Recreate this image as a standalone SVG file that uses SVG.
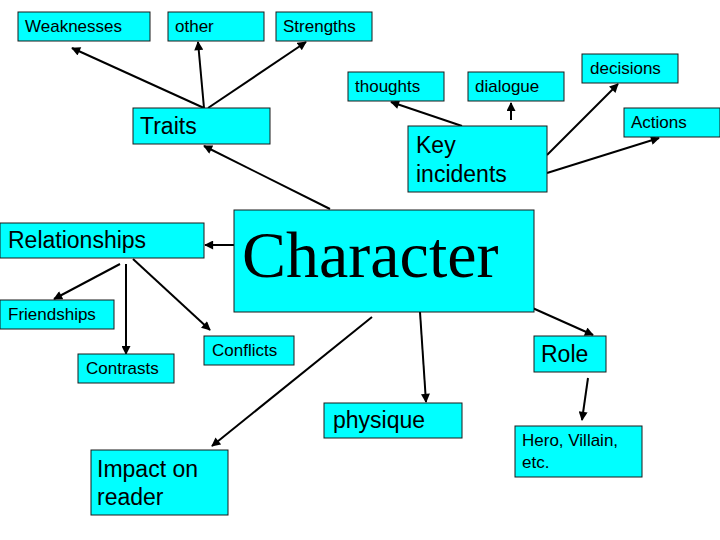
<svg xmlns="http://www.w3.org/2000/svg" width="720" height="540" viewBox="0 0 720 540">
<style>
.box{fill:#00FFFF;stroke:#1a1a1a;stroke-width:1}
.t{font-family:"Liberation Sans",Arial,sans-serif;fill:#000}
.s{font-size:17px}
.m{font-size:23px}
.c{stroke:#000;stroke-width:2;fill:none;marker-end:url(#ah)}
</style>
<defs>
<marker id="ah" viewBox="0 0 10 10" refX="9" refY="5" markerWidth="5" markerHeight="4.5" orient="auto" markerUnits="strokeWidth">
<path d="M0,0 L10,5 L0,10 z" fill="#000"/>
</marker>
</defs>
<rect width="720" height="540" fill="#fff"/>
<g id="connectors">
<line class="c" x1="204" y1="108" x2="72" y2="48"/>
<line class="c" x1="204" y1="108" x2="198" y2="42"/>
<line class="c" x1="208" y1="108" x2="306" y2="42"/>
<line class="c" x1="330" y1="209" x2="204" y2="146"/>
<line class="c" x1="462" y1="126" x2="391" y2="102"/>
<line class="c" x1="511" y1="120" x2="511" y2="103"/>
<line class="c" x1="547" y1="155" x2="618" y2="84"/>
<line class="c" x1="547" y1="173" x2="659" y2="138"/>
<line class="c" x1="234" y1="245" x2="205" y2="245"/>
<line class="c" x1="120" y1="264" x2="54" y2="299"/>
<line class="c" x1="126" y1="264" x2="126" y2="354"/>
<line class="c" x1="133" y1="259" x2="210" y2="330"/>
<line class="c" x1="372" y1="317" x2="212" y2="446"/>
<line class="c" x1="420" y1="312" x2="426" y2="402"/>
<line class="c" x1="528" y1="306" x2="593" y2="335"/>
<line class="c" x1="588" y1="378" x2="582" y2="420"/>
</g>
<g id="weaknesses"><rect class="box" x="18" y="12" width="132" height="29"/><text class="t s" x="25" y="32">Weaknesses</text></g>
<g id="other"><rect class="box" x="168" y="12" width="96" height="29"/><text class="t s" x="175" y="32">other</text></g>
<g id="strengths"><rect class="box" x="276" y="12" width="96" height="29"/><text class="t s" x="283" y="32">Strengths</text></g>
<g id="thoughts"><rect class="box" x="348" y="72" width="96" height="29"/><text class="t s" x="355" y="92">thoughts</text></g>
<g id="dialogue"><rect class="box" x="468" y="72" width="96" height="29"/><text class="t s" x="475" y="92">dialogue</text></g>
<g id="decisions"><rect class="box" x="582" y="54" width="96" height="29"/><text class="t s" x="590" y="74">decisions</text></g>
<g id="actions"><rect class="box" x="624" y="108" width="96" height="29"/><text class="t s" x="631" y="128">Actions</text></g>
<g id="traits"><rect class="box" x="133" y="108" width="137" height="36"/><text class="t m" x="140" y="134">Traits</text></g>
<g id="key-incidents"><rect class="box" x="408" y="126" width="139" height="66"/><text class="t m" x="416" y="153">Key</text><text class="t m" x="416" y="182">incidents</text></g>
<g id="character"><rect class="box" x="234" y="210" width="300" height="102"/><text x="242" y="277" style="font-family:'Liberation Serif','Times New Roman',serif;font-size:66px;fill:#000">Character</text></g>
<g id="relationships"><rect class="box" x="0" y="223" width="204" height="35"/><text class="t m" x="8" y="248">Relationships</text></g>
<g id="friendships"><rect class="box" x="0" y="300" width="114" height="29"/><text class="t s" x="8" y="320">Friendships</text></g>
<g id="contrasts"><rect class="box" x="78" y="354" width="96" height="29"/><text class="t s" x="86" y="374">Contrasts</text></g>
<g id="conflicts"><rect class="box" x="204" y="336" width="90" height="29"/><text class="t s" x="212" y="356">Conflicts</text></g>
<g id="role"><rect class="box" x="534" y="336" width="72" height="36"/><text class="t m" x="541" y="362">Role</text></g>
<g id="physique"><rect class="box" x="324" y="403" width="138" height="35"/><text class="t m" x="333" y="428">physique</text></g>
<g id="hero"><rect class="box" x="515" y="426" width="127" height="51"/><text class="t s" x="522" y="446">Hero, Villain,</text><text class="t s" x="522" y="468">etc.</text></g>
<g id="impact"><rect class="box" x="91" y="450" width="137" height="65"/><text class="t m" x="97" y="477">Impact on</text><text class="t m" x="97" y="505">reader</text></g>
</svg>
